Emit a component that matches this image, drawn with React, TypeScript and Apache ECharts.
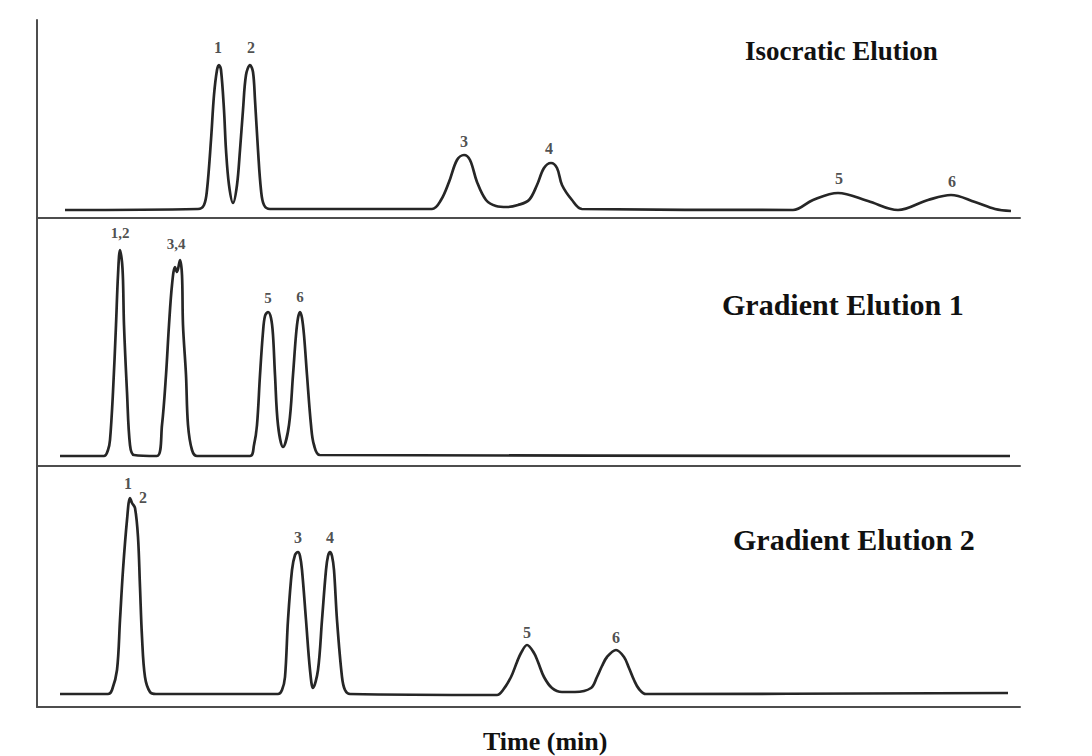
import React, { useEffect, useRef } from "react";
import * as echarts from "echarts";

// ---- Isocratic Elution (panel 1) ----
const isoTime = [1.12, 6.44, 6.68, 6.8, 6.96, 7.08, 7.2, 7.28, 7.36, 7.48, 7.56, 7.68, 7.84, 8.0, 8.12, 8.24, 8.36, 8.52, 8.64, 8.72, 8.84, 8.96, 9.08, 9.32, 15.8, 16.16, 16.48, 16.8, 17.08, 17.32, 17.6, 17.96, 18.36, 18.8, 19.24, 19.68, 20.0, 20.28, 20.56, 20.8, 21.0, 21.4, 21.8, 30.24, 31.04, 32.04, 33.24, 34.44, 35.64, 36.56, 37.52, 38.32, 38.96];
const isoSignal = [4, 4.5, 6.5, 14, 39, 61.5, 74, 76.5, 74, 54, 34, 16.5, 7.5, 16.5, 34, 54, 71.5, 76.5, 73, 59, 34, 14, 6.5, 4.5, 4.5, 9, 18, 29, 31.5, 29, 18, 9, 6, 5.5, 6.5, 9, 16.5, 25, 27.5, 25, 16.5, 9, 4.5, 4, 9, 12.5, 8.5, 4, 9, 11.5, 8, 4.5, 3.5];
const isoLabelTime = [7.24, 8.56, 17.08, 20.48, 32.08, 36.6];
const isoLabelSignal = [85.5, 85.5, 38.5, 35, 20, 18.5];
const isoLabelText = ["1", "2", "3", "4", "5", "6"];

// ---- Gradient Elution 1 (panel 2) ----
const grad1Time = [0.92, 2.68, 2.84, 2.92, 3.04, 3.16, 3.24, 3.32, 3.4, 3.44, 3.48, 3.6, 3.72, 3.88, 4.8, 5.0, 5.16, 5.28, 5.4, 5.52, 5.6, 5.72, 5.8, 5.84, 5.96, 6.04, 6.2, 6.4, 8.52, 8.68, 8.8, 8.92, 9.04, 9.12, 9.24, 9.36, 9.44, 9.52, 9.64, 9.84, 10.08, 10.24, 10.36, 10.44, 10.52, 10.6, 10.68, 10.8, 10.96, 11.08, 11.32, 38.92];
const grad1Signal = [5, 5, 8, 13, 37, 70.5, 95.5, 108, 102, 93, 70.5, 37, 10.5, 5.5, 5, 20.5, 45.5, 70.5, 90.5, 99.5, 97, 103, 95.5, 70.5, 45.5, 20.5, 8, 5, 5, 10.5, 20.5, 45.5, 67, 75, 77, 74, 65.5, 45.5, 20.5, 9.5, 20.5, 45.5, 65.5, 74, 77, 74, 65.5, 45.5, 20.5, 10.5, 5.5, 5];
const grad1LabelTime = [3.32, 5.56, 9.24, 10.52];
const grad1LabelSignal = [116.5, 111, 84, 84.5];
const grad1LabelText = ["1,2", "3,4", "5", "6"];

// ---- Gradient Elution 2 (panel 3) ----
const grad2Time = [0.92, 2.84, 3.0, 3.2, 3.32, 3.44, 3.6, 3.72, 3.8, 3.92, 4.04, 4.12, 4.2, 4.32, 4.52, 4.76, 9.64, 9.8, 9.92, 10.04, 10.2, 10.32, 10.44, 10.52, 10.6, 10.76, 10.92, 11.04, 11.24, 11.4, 11.56, 11.64, 11.72, 11.8, 11.88, 12.0, 12.2, 12.32, 12.52, 18.4, 18.64, 18.96, 19.2, 19.36, 19.6, 19.88, 20.04, 20.28, 20.6, 21.0, 21.52, 22.16, 22.4, 22.6, 22.8, 23.16, 23.48, 23.68, 23.88, 24.08, 24.36, 38.84];
const grad2Signal = [6.5, 6.5, 8.5, 18.5, 43.5, 68.5, 93.5, 104.5, 102, 99.5, 85, 60, 35, 15, 7.5, 6.5, 6.5, 8.5, 15, 43.5, 68.5, 76, 77.5, 75.5, 68.5, 43.5, 18.5, 9.5, 18.5, 43.5, 68.5, 75.5, 77.5, 75.5, 68.5, 43.5, 15, 8.5, 6.5, 6, 8.5, 15, 22.5, 27, 31, 27, 22.5, 15, 9.5, 7.5, 7.5, 9.5, 15, 20.5, 25, 28.5, 25, 19.5, 13.5, 9, 6.5, 7];
const grad2LabelTime = [3.64, 4.24, 10.44, 11.72, 19.6, 23.16];
const grad2LabelSignal = [112, 105, 85, 85, 37.5, 35];
const grad2LabelText = ["1", "2", "3", "4", "5", "6"];

const panelTitles = ["Isocratic Elution", "Gradient Elution 1", "Gradient Elution 2"];
const axisTitle = "Time (min)";

const zip2 = (a: number[], b: number[]) => a.map((v, i) => [v, b[i]]);
const zip3 = (a: number[], b: number[], c: string[]) => a.map((v, i) => [v, b[i], c[i]]);

export default function App() {
  const ref = useRef<HTMLDivElement>(null);
  useEffect(() => {
    if (!ref.current) return;
    const chart = echarts.init(ref.current, undefined, { renderer: "svg" });
    const serif = "'Liberation Serif', 'Times New Roman', serif";
    const lineColor = "#262626";
    const axisColor = "#4d4d4d";
    const grids = [
      { left: 37, right: 72, top: 20, height: 198 },
      { left: 37, right: 72, top: 218, height: 248 },
      { left: 37, right: 72, top: 466, height: 241 },
    ];
    const yMax = [99, 124, 120.5];
    const xAxes = grids.map((_, i) => ({
      type: "value",
      gridIndex: i,
      min: 0,
      max: 39.32,
      axisLine: { show: true, onZero: false, lineStyle: { color: axisColor, width: 2 } },
      axisTick: { show: false },
      axisLabel: { show: false },
      splitLine: { show: false },
    }));
    const yAxes = grids.map((_, i) => ({
      type: "value",
      gridIndex: i,
      min: 0,
      max: yMax[i],
      axisLine: { show: true, lineStyle: { color: axisColor, width: 2 } },
      axisTick: { show: false },
      axisLabel: { show: false },
      splitLine: { show: false },
    }));
    const traces = [
      zip2(isoTime, isoSignal),
      zip2(grad1Time, grad1Signal),
      zip2(grad2Time, grad2Signal),
    ];
    const labels = [
      zip3(isoLabelTime, isoLabelSignal, isoLabelText),
      zip3(grad1LabelTime, grad1LabelSignal, grad1LabelText),
      zip3(grad2LabelTime, grad2LabelSignal, grad2LabelText),
    ];
    const labelSizes = [16, 15, 16];
    const series: any[] = [];
    traces.forEach((d, i) => {
      series.push({
        type: "line",
        name: panelTitles[i],
        xAxisIndex: i,
        yAxisIndex: i,
        data: d,
        showSymbol: false,
        smooth: 0.35,
        lineStyle: { color: lineColor, width: 2.7 },
        silent: true,
      });
      series.push({
        type: "scatter",
        xAxisIndex: i,
        yAxisIndex: i,
        data: labels[i],
        symbolSize: 1,
        itemStyle: { color: "rgba(0,0,0,0)" },
        silent: true,
        label: {
          show: true,
          position: "inside",
          formatter: (p: any) => p.value[2],
          fontFamily: serif,
          fontWeight: "bold",
          fontSize: labelSizes[i],
          color: "#222",
        },
      });
    });
    chart.setOption({
      animation: false,
      backgroundColor: "#ffffff",
      grid: grids,
      xAxis: xAxes,
      yAxis: yAxes,
      series,
      graphic: [
        {
          type: "text",
          left: 745,
          top: 37,
          style: { text: panelTitles[0], font: `bold 27px ${serif}`, fill: "#111" },
        },
        {
          type: "text",
          left: 722,
          top: 289,
          style: { text: panelTitles[1], font: `bold 30px ${serif}`, fill: "#111" },
        },
        {
          type: "text",
          left: 733,
          top: 524,
          style: { text: panelTitles[2], font: `bold 30px ${serif}`, fill: "#111" },
        },
        {
          type: "text",
          left: 483,
          top: 728,
          style: { text: axisTitle, font: `bold 26px ${serif}`, fill: "#111" },
        },
      ],
    });
    return () => chart.dispose();
  }, []);
  return (
    <div
      ref={ref}
      style={{ position: "absolute", left: 0, top: 0, width: 1092, height: 756 }}
    />
  );
}
